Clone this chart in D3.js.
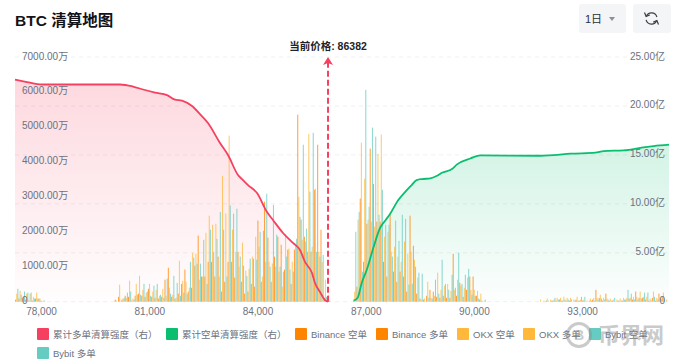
<!DOCTYPE html>
<html>
<head>
<meta charset="utf-8">
<script src="https://cdn.jsdelivr.net/npm/d3@7"></script>
<style>
  html, body { margin: 0; padding: 0; background: #fff; }
  text { font-family: "Liberation Sans", "Noto Sans CJK SC", sans-serif; }
</style>
</head>
<body>
<div id="canvas"></div>
<script>
// Setting dimensions

let width = 677;
let height = 362;
let margin = {top: 57, right: 8, bottom: 60.3, left: 15};

// Defining the titles and labels

let title = "BTC 清算地图";
let currentPriceLabel = "当前价格: 86382";
let rangeLabel = "1日";
let watermark = "币界网";

let leftTicks = [0, 1000, 2000, 3000, 4000, 5000, 6000, 7000];
let rightTicks = [0, 5, 10, 15, 20, 25];
let priceTicks = [78000, 81000, 84000, 87000, 90000, 93000];

let legendNames = ["累计多单清算强度（右）", "累计空单清算强度（右）", "Binance 空单", "Binance 多单", "OKX 空单", "OKX 多单", "Bybit 空单", "Bybit 多单"];
let legendColors = ["#F5405F", "#09BE6F", "#FF8400", "#FF8400", "#FFB83A", "#FFB83A", "#66CCC2", "#66CCC2"];

// Price bins of the bars: long side bins start at firstLongPrice, short side at firstShortPrice

let binStep = 92;
let firstLongPrice = 77320;
let firstShortPrice = 86704;
let markerPrice = 85956;

// Liquidation per bin, in 万

let binanceLong = [60,90,110,60,30,30,90,90,0,0, 0,0,0,0,0,0,0,0,0,0,0,0,0,0,0,0,0,0,0,0,
  60,140,60,170,140,30,170,230,170,140,370,140,110,90,140,630,970,140,90,230,510,920,290,400,1030,
  1890,720,720,1140,1140,720,1290,290,570,1140,1140,690,1430,570,230,290,510,430,2320,570,2860,1830,570,1290,1860,
  1630,920,1490,510,1490,5350,2350,1860,1430,1430,3200,4490,2060,90,0];
let okxLong = [230,310,140,230,230,140,260,90,30,0, 0,0,0,0,0,0,0,0,0,0,0,0,0,0,0,0,0,0,0,0,
  30,490,90,110,600,90,510,740,340,260,510,290,340,170,370,170,400,200,110,1170,600,570,400,1400,1370,
  630,720,1970,2460,2200,2230,720,3600,2520,4750,2060,1430,1000,1690,890,940,1290,1860,1570,720,1140,1140,1090,1000,860,
  430,1940,1520,1140,1660,3000,1770,1720,4800,1570,3230,1430,1140,630,200];
let bybitLong = [370,200,290,260,260,90,90,30,30,0, 0,0,0,0,0,0,0,0,0,0,0,0,0,0,0,0,0,0,0,0,
  0,0,110,260,290,60,200,200,510,290,170,460,510,200,110,660,230,740,540,170,260,230,1140,1260,1090,
  1090,1770,510,2060,1430,1800,2570,2060,720,2750,2520,2660,1290,1030,740,1230,1230,1200,2000,2030,3090,1000,2770,1920,1000,
  860,1290,920,860,1800,2430,4490,2090,3150,4830,1430,1290,1340,140,30];

let binanceShort = [60,430,2950,1140,2230,4380,3370,2290,2290,1140,720,2490,860,570,860,720,290,2460,1600,230,
  90,60,170,340,290,140,110,170,110,110,1370,170,540,140,340,720,720,170,60,0,
  0,0,0,0,0,0,0,0,0,0,0,0,0,0,0,0,
  0,0,30,0,30,30,60,30,30,30,0,60,30,30,0,30,60,340,110,30,230,30,30,0,30,30,60,90,60,290,110,110,60,30,110,30,230,140,0];
let okxShort = [290,2350,4550,3520,2350,2290,2150,4230,4780,1860,2000,1430,1570,1290,1140,1720,1370,1430,1200,690,
  60,90,570,110,170,830,340,460,510,310,340,630,460,400,690,340,340,310,230,30,
  0,0,0,0,0,0,0,0,0,0,0,0,0,0,0,0,
  60,30,90,60,60,110,110,140,110,110,60,140,60,60,30,90,110,110,200,110,90,90,60,60,90,110,110,110,140,140,290,140,140,90,290,110,110,260,60];
let bybitShort = [2000,2570,860,6060,2720,4980,4720,2490,3200,2200,2200,1290,2320,1740,2490,2370,490,510,1000,830,
  800,0,110,90,630,230,1200,510,340,770,400,1400,510,770,940,200,170,90,30,60,
  0,0,0,0,0,0,0,0,0,0,0,0,0,0,0,0,
  0,0,30,30,110,60,30,60,60,60,30,30,140,140,0,30,30,60,90,60,60,30,110,30,30,60,340,230,60,60,90,260,260,30,140,60,60,90,0];

// Cumulative strength, in 亿

let longCumPrice = [77279,77612,78028,80190,80550,80827,81160,81493,81714,81909,82186,82407,82629,82962,83184,83461,83599,83738,83988,84265,84431,84708,84985,85179,85318,85512,85595,85734,85873,85956];
let longCumValue = [22.7,22.44,22.19,22.19,21.98,21.68,21.37,21.11,20.65,20.55,19.99,19.17,18.25,16.21,14.98,12.94,12.43,11.92,11.1,9.16,8.34,7.02,6.0,5.28,4.06,2.93,1.91,0.99,0.17,0];
let shortCumPrice = [86676,86779,86890,87028,87211,87397,87555,87674,87904,88090,88276,88414,88570,88791,88977,89116,89393,89532,89900,90178,91749,92212,92672,93365,93598,94152,94751,94984,95408];
let shortCumValue = [0.12,0.41,1.91,3.24,5.49,7.53,8.35,8.96,10.39,11.2,11.92,12.43,12.53,12.6,12.87,13.18,13.55,14.03,14.63,14.95,14.91,14.98,15.12,15.22,15.39,15.46,15.8,15.9,16.04];

// Drawing plotting area

let svg = d3.select("#canvas")
    .append("svg")
    .attr("width", width)
    .attr("height", height)
    .style("display", "block");

let plotBottom = height - margin.bottom;
let plotRight = width - margin.right;

// Defining the scales

let xScale = d3.scaleLinear().domain([77279, 95408]).range([margin.left, plotRight]);
let yLeft = d3.scaleLinear().domain([0, 7000]).range([plotBottom, margin.top]);
let yRight = d3.scaleLinear().domain([0, 25]).range([plotBottom, margin.top]);

// Gradients of the two areas

let defs = svg.append("defs");

function addGradient(id, color, topOpacity) {
    let g = defs.append("linearGradient").attr("id", id).attr("x1", 0).attr("y1", 0).attr("x2", 0).attr("y2", 1);
    g.append("stop").attr("offset", "0%").attr("stop-color", color).attr("stop-opacity", topOpacity);
    g.append("stop").attr("offset", "100%").attr("stop-color", color).attr("stop-opacity", 0.01);
}
addGradient("longFill", "#F5405F", 0.2);
addGradient("shortFill", "#09BE6F", 0.18);

// Grid lines follow the right axis

svg.append("g")
    .selectAll("line")
    .data(rightTicks)
    .join("line")
    .attr("x1", margin.left)
    .attr("x2", plotRight)
    .attr("y1", d => yRight(d))
    .attr("y2", d => yRight(d))
    .style("stroke", "#EFF0F2")
    .style("stroke-dasharray", "4,4");

// Plotting the areas

let areaOf = (xs) => d3.area()
    .x((d, i) => xScale(xs[i]))
    .y0(plotBottom)
    .y1(d => yRight(d))
    .curve(d3.curveMonotoneX);

svg.append("path").datum(longCumValue).attr("d", areaOf(longCumPrice)).style("fill", "url(#longFill)");
svg.append("path").datum(shortCumValue).attr("d", areaOf(shortCumPrice)).style("fill", "url(#shortFill)");

// Plotting the bars, six slots per bin like a grouped bar chart

let slotWidth = (xScale(firstLongPrice + binStep) - xScale(firstLongPrice)) / 6;
let barWidth = 1;

let barSeries = [
    {values: binanceShort, start: firstShortPrice, slot: 0, color: "#FF8400"},
    {values: binanceLong, start: firstLongPrice, slot: 1, color: "#FF8400"},
    {values: okxShort, start: firstShortPrice, slot: 2, color: "#FFB83A"},
    {values: okxLong, start: firstLongPrice, slot: 3, color: "#FFB83A"},
    {values: bybitShort, start: firstShortPrice, slot: 4, color: "#66CCC2"},
    {values: bybitLong, start: firstLongPrice, slot: 5, color: "#66CCC2"}
];

defs.append("clipPath").attr("id", "plotClip").append("rect")
    .attr("x", margin.left).attr("y", 0).attr("width", plotRight - margin.left).attr("height", plotBottom + 1);

barSeries.forEach((s) => {
    svg.append("g")
        .attr("clip-path", "url(#plotClip)")
        .selectAll("rect")
        .data(s.values)
        .join("rect")
        .attr("x", (d, i) => xScale(s.start + i * binStep) + (s.slot - 2.5) * slotWidth - barWidth / 2)
        .attr("y", d => yLeft(d))
        .attr("width", barWidth)
        .attr("height", d => plotBottom - yLeft(d))
        .style("fill", s.color)
        .style("fill-opacity", 0.78);
});

// Plotting the lines

let lineOf = (xs) => d3.line()
    .x((d, i) => xScale(xs[i]))
    .y(d => yRight(d))
    .curve(d3.curveMonotoneX);

svg.append("path").datum(longCumValue).attr("d", lineOf(longCumPrice))
    .style("fill", "none").style("stroke", "#F5405F").style("stroke-width", 1.8);
svg.append("path").datum(shortCumValue).attr("d", lineOf(shortCumPrice))
    .style("fill", "none").style("stroke", "#09BE6F").style("stroke-width", 1.8);

// Current price marker

let mx = xScale(markerPrice);
svg.append("line")
    .attr("x1", mx).attr("x2", mx)
    .attr("y1", plotBottom).attr("y2", margin.top + 6)
    .style("stroke", "#F5405F")
    .style("stroke-width", 2)
    .style("stroke-dasharray", "6,3");
svg.append("path")
    .attr("d", d3.line()([[mx, margin.top], [mx + 5, margin.top + 8], [mx, margin.top + 6], [mx - 5, margin.top + 8]]) + "Z")
    .style("fill", "#F5405F");
svg.append("text")
    .attr("x", mx)
    .attr("y", 49.5)
    .style("font-size", 10.5)
    .style("font-weight", 700)
    .style("text-anchor", "middle")
    .style("fill", "#1F2329")
    .text(currentPriceLabel);

// Plotting the axes

let xAxis = svg.append("g")
    .attr("transform", "translate(0, " + plotBottom + ")")
    .call(d3.axisBottom(xScale).tickValues(priceTicks).tickSize(0).tickPadding(6).tickFormat(d3.format(",")));
xAxis.select(".domain").remove();
xAxis.selectAll("text").style("font-size", 10).style("fill", "#6B7280");

svg.append("g")
    .selectAll("text")
    .data(leftTicks)
    .join("text")
    .attr("x", 22)
    .attr("y", d => yLeft(d) + 2.5)
    .style("font-size", 10)
    .style("fill", "#6B7280")
    .text(d => d === 0 ? "0" : d3.format(".2f")(d) + "万");

svg.append("g")
    .selectAll("text")
    .data(rightTicks)
    .join("text")
    .attr("x", 665)
    .attr("y", d => yRight(d) + 2.5)
    .style("font-size", 10)
    .style("text-anchor", "end")
    .style("fill", "#6B7280")
    .text(d => d === 0 ? "0" : d3.format(".2f")(d) + "亿");

// Title and the two buttons

svg.append("text")
    .attr("x", 15)
    .attr("y", 26)
    .style("font-size", 15.5)
    .style("font-weight", 600)
    .style("fill", "#111318")
    .text(title);

svg.append("rect").attr("x", 579).attr("y", 4).attr("width", 47).attr("height", 29).attr("rx", 3).style("fill", "#F4F5F7");
svg.append("rect").attr("x", 633).attr("y", 4).attr("width", 38).attr("height", 29).attr("rx", 3).style("fill", "#F4F5F7");
svg.append("text").attr("x", 585).attr("y", 23).style("font-size", 11).style("fill", "#2B2F36").text(rangeLabel);
svg.append("path").attr("d", "M609 17 L615 17 L612 21 Z").style("fill", "#8A8F99");

let refresh = svg.append("g").attr("transform", "translate(651.5, 18.5)")
    .style("fill", "none").style("stroke", "#3A3F47").style("stroke-width", 1.2);
refresh.append("path").attr("d", d3.arc()({innerRadius: 5.6, outerRadius: 5.6, startAngle: -1.2, endAngle: 1.3}));
refresh.append("path").attr("d", d3.arc()({innerRadius: 5.6, outerRadius: 5.6, startAngle: 1.95, endAngle: 4.45}));
refresh.append("path").attr("d", "M-7 -6 L-5.4 -2 L-1.8 -3.6");
refresh.append("path").attr("d", "M7 6 L5.4 2 L1.8 3.6");

// Legend

let legendX = [37, 166, 295, 376, 457, 523, 589, 37];
let legendY = [328, 328, 328, 328, 328, 328, 328, 347];

let legend = svg.append("g")
    .selectAll("g")
    .data(legendNames)
    .join("g")
    .attr("transform", (d, i) => "translate(" + legendX[i] + ", " + legendY[i] + ")");

legend.append("rect")
    .attr("width", 12)
    .attr("height", 12)
    .attr("rx", 1)
    .style("fill", (d, i) => legendColors[i]);

legend.append("text")
    .attr("x", 16)
    .attr("y", 9.5)
    .style("font-size", 9.5)
    .style("fill", "#6B7280")
    .text(d => d);

// Watermark over the legend

let mark = svg.append("g").style("opacity", 0.45);
mark.append("circle").attr("cx", 579).attr("cy", 335).attr("r", 11.5)
    .style("fill", "none").style("stroke", "#8C8C8C").style("stroke-width", 3);
mark.append("text").attr("x", 579).attr("y", 340).style("font-size", 14).style("font-weight", 700)
    .style("text-anchor", "middle").style("fill", "#8C8C8C").text("B");
mark.append("text").attr("x", 598).attr("y", 343).style("font-size", 22).style("font-weight", 700)
    .style("fill", "#8C8C8C").text(watermark);
</script>
</body>
</html>
